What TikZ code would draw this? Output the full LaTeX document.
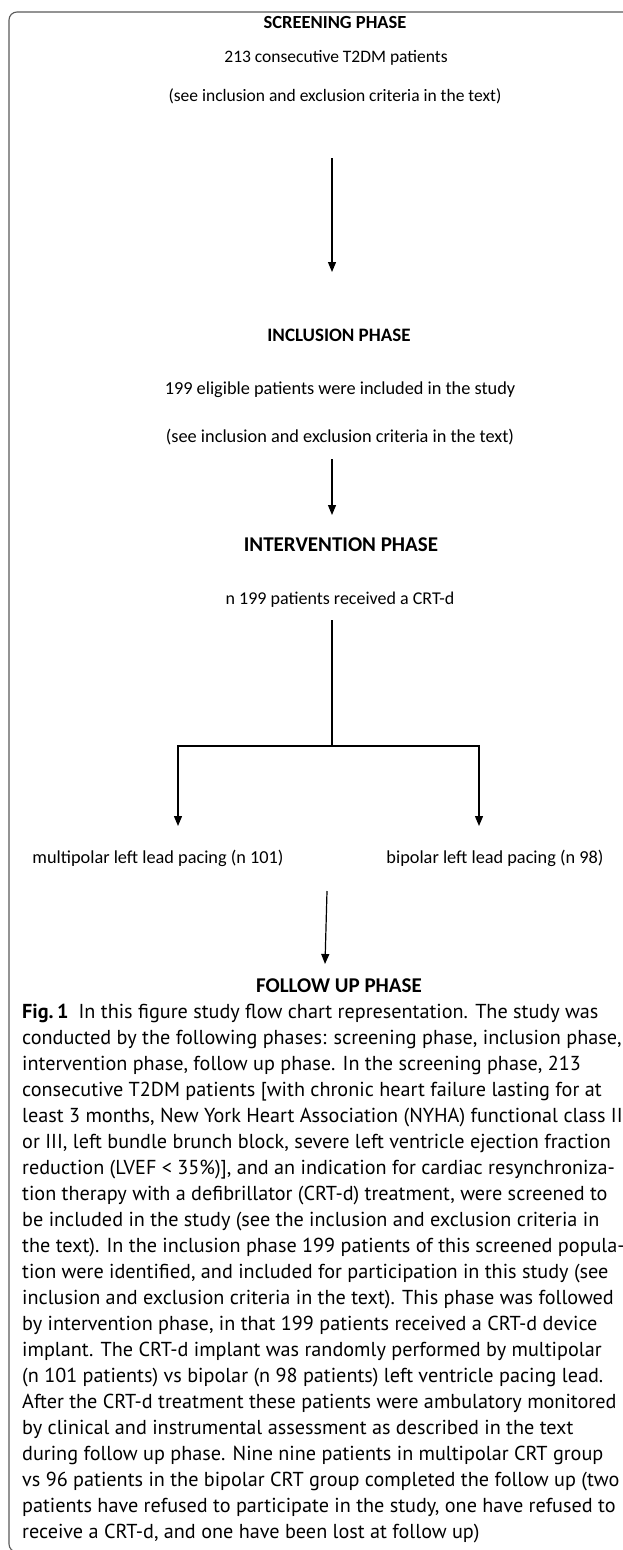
\documentclass[tikz,border=0pt]{standalone}
\usepackage{fontspec}
\setmainfont{Carlito}
\newfontfamily\capfont{PT Sans}
\usetikzlibrary{arrows.meta}

\begin{document}
\begin{tikzpicture}[x=1pt,y=-1pt,
  phase/.style={font=\bfseries\fontsize{18.5}{22}\selectfont, inner sep=0pt},
  bigphase/.style={phase, font=\bfseries\fontsize{21}{24}\selectfont},
  info/.style={font=\fontsize{17.5}{21}\selectfont, inner sep=0pt},
  flow/.style={-{Triangle[width=8pt,length=10pt]}, line width=1.2pt},
  link/.style={line width=1.2pt}]
\useasboundingbox (0,0) rectangle (623,1550);
% open frame round the figure
\draw[black!65, line width=1.1pt, rounded corners=8pt]
  (624,12) -- (9,12) -- (9,1552) -- (40,1552);

% screening
\node[phase] (scr) at (335,22) {SCREENING PHASE};
\node[info] (scrnum) at (336,58) {213 consecutive T2DM patients};
\node[info] (scrnote) at (335,96) {(see inclusion and exclusion criteria in the text)};
\coordinate (scrout) at (332,158);
\coordinate (inclin) at (332,272);
\draw[flow] (scrout) -- (inclin);

% inclusion
\node[phase, font=\bfseries\fontsize{19}{22}\selectfont] (incl) at (339,335) {INCLUSION PHASE};
\node[info, font=\fontsize{18.3}{21}\selectfont] (inclnum) at (340,390) {199 eligible patients were included in the study};
\node[info, font=\fontsize{18.3}{21}\selectfont] (inclnote) at (340,437) {(see inclusion and exclusion criteria in the text)};
\coordinate (inclout) at (332,459);
\coordinate (intvin) at (332,515);
\draw[flow] (inclout) -- (intvin);

% intervention
\node[bigphase] (intv) at (341,545) {INTERVENTION PHASE};
\node[info, font=\fontsize{18}{21}\selectfont] (intvnum) at (340,600) {n 199 patients received a CRT-d};
\coordinate (intvout) at (332,620);
\coordinate (split) at (332,746);
\coordinate (multin) at (178,826);
\coordinate (bipin) at (479,826);
\draw[link] (intvout) -- (split);
\draw[flow] (split) -| (multin);
\draw[flow] (split) -| (bipin);

% the two arms
\node[info, font=\fontsize{18.3}{21}\selectfont] (multi) at (158,858) {multipolar left lead pacing (n 101)};
\node[info, font=\fontsize{18.3}{21}\selectfont] (bip) at (495,858) {bipolar left lead pacing (n 98)};
\coordinate (armsout) at (327,891);
\coordinate (fupin) at (325,964);
\draw[flow] (armsout) -- (fupin);

% follow up
\node[bigphase] (fup) at (339,986) {FOLLOW UP PHASE};

% caption
\node[anchor=base west, inner sep=0pt, align=left,
      font=\capfont\fontsize{20.2}{26}\selectfont] (cap) at (22,1538)
 {\textbf{Fig.\,1}\enskip In this figure study flow chart representation. The study was\\
  conducted by the following phases: screening phase, inclusion phase,\\
  intervention phase, follow up phase. In the screening phase, 213\\
  consecutive T2DM patients [with chronic heart failure lasting for at\\
  least 3 months, New York Heart Association (NYHA) functional class II\\
  or III, left bundle brunch block, severe left ventricle ejection fraction\\
  reduction (LVEF < 35\%)], and an indication for cardiac resynchroniza-\\
  tion therapy with a defibrillator (CRT-d) treatment, were screened to\\
  be included in the study (see the inclusion and exclusion criteria in\\
  the text). In the inclusion phase 199 patients of this screened popula-\\
  tion were identified, and included for participation in this study (see\\
  inclusion and exclusion criteria in the text). This phase was followed\\
  by intervention phase, in that 199 patients received a CRT-d device\\
  implant. The CRT-d implant was randomly performed by multipolar\\
  (n 101 patients) vs bipolar (n 98 patients) left ventricle pacing lead.\\
  After the CRT-d treatment these patients were ambulatory monitored\\
  by clinical and instrumental assessment as described in the text\\
  during follow up phase. Nine nine patients in multipolar CRT group\\
  vs 96 patients in the bipolar CRT group completed the follow up (two\\
  patients have refused to participate in the study, one have refused to\\
  receive a CRT-d, and one have been lost at follow up)};
\end{tikzpicture}
\end{document}
